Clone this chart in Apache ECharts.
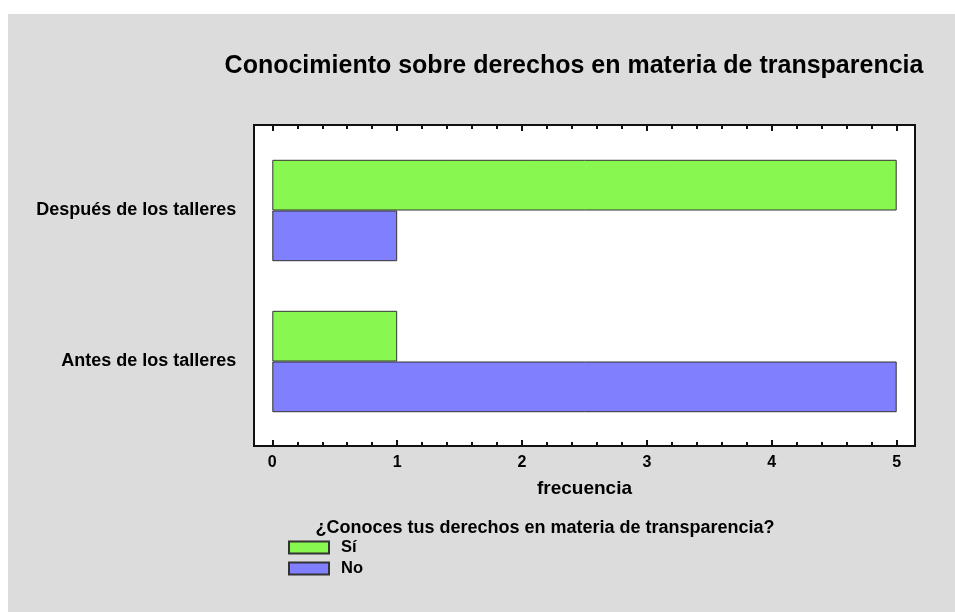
<!DOCTYPE html>
<html>
<head>
<meta charset="utf-8">
<script src="https://cdn.jsdelivr.net/npm/echarts@6/dist/echarts.min.js"></script>
<style>
  html, body { margin: 0; padding: 0; background: #fff; }
  #main { width: 955px; height: 612px; }
</style>
</head>
<body>
<div id="main"></div>
<script>
  // categories, bottom to top on the y axis
  var categories = ['Antes de los talleres', 'Después de los talleres'];
  var serieSi = [1, 5];
  var serieNo = [5, 1];
  var xTicks = [0, 1, 2, 3, 4, 5];

  var chart = echarts.init(document.getElementById('main'));
  var boldFont = 'Liberation Sans, Arial, sans-serif';

  var option = {
    animation: false,
    textStyle: { fontFamily: boldFont },
    title: [
      {
        text: 'Conocimiento sobre derechos en materia de transparencia',
        left: 574, top: 54, padding: 0, textAlign: 'center',
        textStyle: { fontSize: 25, fontWeight: 'bold', color: '#000', fontFamily: boldFont }
      },
      {
        text: '¿Conoces tus derechos en materia de transparencia?',
        left: 545, top: 519, padding: 0, textAlign: 'center',
        textStyle: { fontSize: 18, fontWeight: 'bold', color: '#000', fontFamily: boldFont }
      }
    ],
    graphic: [
      {
        type: 'rect', z: -10, silent: true,
        shape: { x: 8, y: 14, width: 947, height: 598 },
        style: { fill: '#dcdcdc' }
      }
    ],
    legend: {
      orient: 'vertical',
      left: 288, top: 539, padding: 0,
      icon: 'rect',
      itemWidth: 40, itemHeight: 12, itemGap: 4,
      data: ['Sí', 'No'],
      textStyle: { fontSize: 16.5, fontWeight: 'bold', color: '#000', lineHeight: 13, padding: [0, 0, 0, 7] }
    },
    grid: [
      // frame
      { left: 254, top: 125, width: 661, height: 321, show: true,
        backgroundColor: '#fff', borderColor: '#111', borderWidth: 2 },
      // data area: x from 0 to 5
      { left: 272.3, top: 135, width: 624.4, height: 302 }
    ],
    xAxis: [
      { gridIndex: 0, type: 'value', show: false, min: 0, max: 1 },
      {
        gridIndex: 1, type: 'value', min: xTicks[0], max: xTicks[xTicks.length - 1], interval: 1,
        position: 'bottom', offset: 9,
        name: 'frecuencia', nameLocation: 'middle', nameGap: 33,
        nameTextStyle: { fontSize: 19, fontWeight: 'bold', color: '#000' },
        axisLine: { show: false },
        axisTick: { show: true, inside: true, length: 6, lineStyle: { color: '#111', width: 2 } },
        minorTick: { show: true, splitNumber: 5, length: 4, lineStyle: { color: '#111', width: 2 } },
        axisLabel: { fontSize: 16, fontWeight: 'bold', color: '#000', margin: 9 },
        splitLine: { show: false }
      },
      {
        gridIndex: 1, type: 'value', min: xTicks[0], max: xTicks[xTicks.length - 1], interval: 1,
        position: 'top', offset: 10,
        axisLine: { show: false },
        axisTick: { show: true, inside: true, length: 6, lineStyle: { color: '#111', width: 2 } },
        minorTick: { show: true, splitNumber: 5, length: 4, lineStyle: { color: '#111', width: 2 } },
        axisLabel: { show: false },
        splitLine: { show: false }
      }
    ],
    yAxis: [
      { gridIndex: 0, type: 'value', show: false, min: 0, max: 1 },
      {
        gridIndex: 1, type: 'category', data: categories,
        axisLine: { show: false }, axisTick: { show: false },
        axisLabel: { fontSize: 18, fontWeight: 'bold', color: '#000', margin: 36 }
      }
    ],
    series: [
      {
        name: 'Sí', type: 'bar', xAxisIndex: 1, yAxisIndex: 1,
        data: serieSi, barWidth: 50.7, barGap: '0%',
        itemStyle: { color: '#88f850', borderColor: '#333', borderWidth: 1 }
      },
      {
        name: 'No', type: 'bar', xAxisIndex: 1, yAxisIndex: 1,
        data: serieNo, barWidth: 50.7, barGap: '0%',
        itemStyle: { color: '#8080ff', borderColor: '#333', borderWidth: 1 }
      }
    ]
  };

  chart.setOption(option);
</script>
</body>
</html>
